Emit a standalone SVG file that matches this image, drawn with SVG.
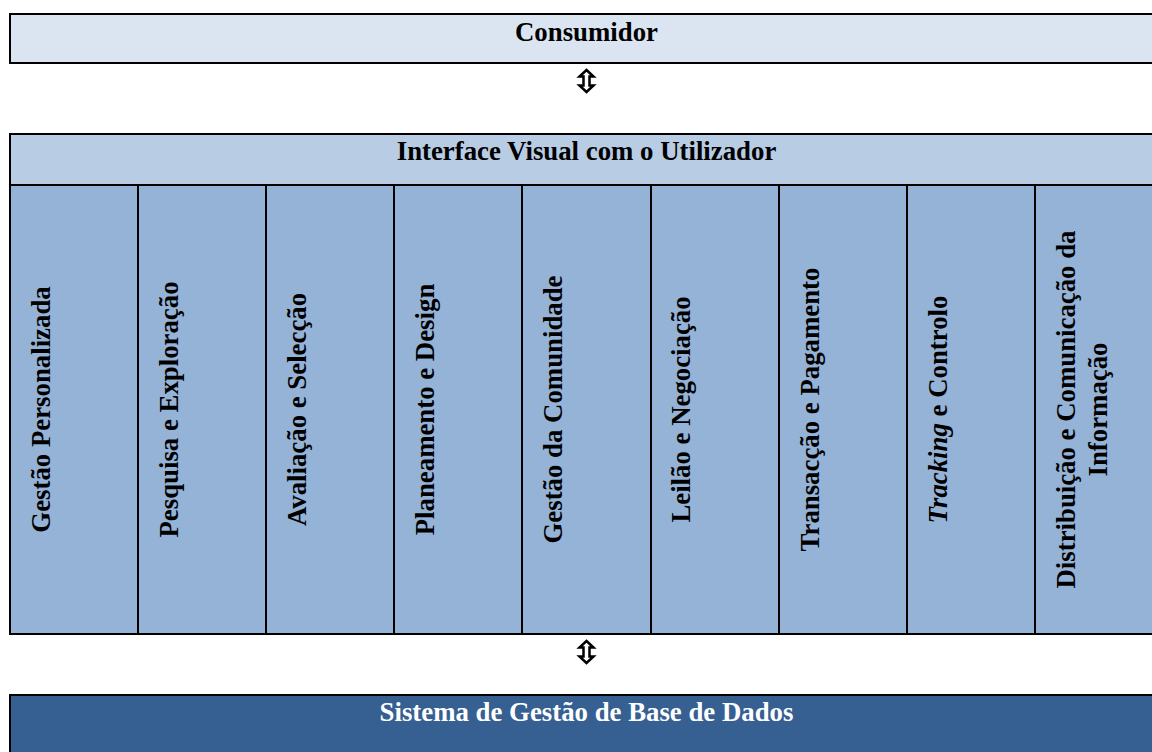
<svg xmlns="http://www.w3.org/2000/svg" width="1152" height="752" viewBox="0 0 1152 752">
<style>
text{font-family:"Liberation Serif","Times New Roman",serif;font-weight:700;font-size:26.8px;fill:#000;text-anchor:middle}
rect{stroke:#000;stroke-width:2}
.c{fill:#95b3d7}
.a{fill:#fff;stroke:#000;stroke-width:2.5}
</style>
<rect width="1152" height="752" style="fill:#fff;stroke:none"/>
<g id="consumidor">
<rect x="10" y="14" width="1160" height="49" fill="#dbe5f1"/>
<text x="586.500" y="41">Consumidor</text>
</g>
<g id="interface">
<rect x="10" y="134" width="1160" height="51" fill="#b8cce4"/>
<text x="586.500" y="160">Interface Visual com o Utilizador</text>
</g>
<g id="gestao-personalizada"><rect class="c" x="10" y="185" width="128" height="449"/><text transform="translate(49.500,409.500) rotate(-90)">Gestão Personalizada</text></g>
<g id="pesquisa"><rect class="c" x="138" y="185" width="128" height="449"/><text transform="translate(177.500,409.500) rotate(-90)">Pesquisa e Exploração</text></g>
<g id="avaliacao"><rect class="c" x="266" y="185" width="128" height="449"/><text transform="translate(305.500,409.500) rotate(-90)">Avaliação e Selecção</text></g>
<g id="planeamento"><rect class="c" x="394" y="185" width="128" height="449"/><text transform="translate(433.500,409.500) rotate(-90)">Planeamento e Design</text></g>
<g id="comunidade"><rect class="c" x="522" y="185" width="129" height="449"/><text transform="translate(562,409.500) rotate(-90)">Gestão da Comunidade</text></g>
<g id="leilao"><rect class="c" x="651" y="185" width="128" height="449"/><text transform="translate(690,409.500) rotate(-90)">Leilão e Negociação</text></g>
<g id="transaccao"><rect class="c" x="779" y="185" width="128" height="449"/><text transform="translate(818.500,409.500) rotate(-90)">Transacção e Pagamento</text></g>
<g id="tracking"><rect class="c" x="907" y="185" width="128" height="449"/><text transform="translate(946.500,409.500) rotate(-90)"><tspan font-style="italic">Tracking</tspan> e Controlo</text></g>
<g id="distribuicao"><rect class="c" x="1035" y="185" width="135" height="449"/><text transform="translate(1074.500,409.500) rotate(-90)">Distribuição e Comunicação da</text><text transform="translate(1106.500,409.500) rotate(-90)">Informação</text></g>
<g id="sgbd">
<rect x="10" y="695" width="1160" height="80" fill="#366092"/>
<text x="586.500" y="721" style="fill:#fff">Sistema de Gestão de Base de Dados</text>
</g>
<g id="connectors">
<path class="a" d="M586.500 70l7 6.500h-4v9h4l-7 6.500l-7-6.500h4v-9h-4z"/>
<path class="a" d="M586.500 641l7 6.500h-4v9h4l-7 6.500l-7-6.500h4v-9h-4z"/>
</g>
</svg>
